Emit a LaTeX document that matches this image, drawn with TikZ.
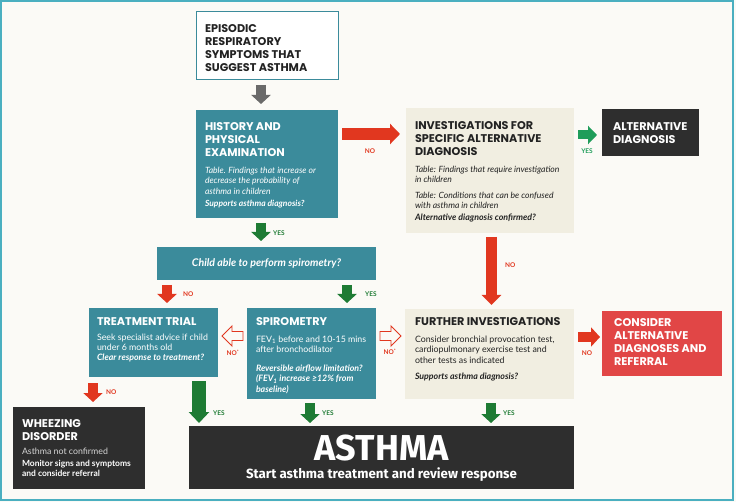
\documentclass[tikz,border=0pt]{standalone}
\usepackage{fontspec}
\setmainfont{Lato}
\newfontfamily\headfont{Poppins}
\newfontfamily\bigfont{Fira Sans}
\usetikzlibrary{arrows.meta,calc}
\definecolor{bgc}{HTML}{FBFAF6}
\definecolor{framec}{HTML}{4AAFC0}
\definecolor{tealc}{HTML}{3B8B9B}
\definecolor{beigec}{HTML}{F1EEE1}
\definecolor{darkc}{HTML}{2E2E2E}
\definecolor{redc}{HTML}{E1371F}
\definecolor{consc}{HTML}{E14646}
\definecolor{greenc}{HTML}{1E7B34}
\definecolor{brightg}{HTML}{1F9D5A}
\definecolor{grayc}{HTML}{6A6A6A}
\definecolor{inkc}{HTML}{222222}
\tikzset{
  boxn/.style={inner sep=0pt, outer sep=0pt, anchor=north west, draw=none},
  tx/.style={inner sep=0pt, outer sep=0pt, anchor=north west, align=left},
  hfont/.style={font=\headfont\bfseries\fontsize{11.2}{12.7}\selectfont},
  bfont/.style={font=\fontsize{8.8}{10.4}\selectfont},
  bifont/.style={font=\itshape\fontsize{8.6}{10.4}\selectfont},
  qfont/.style={font=\bfseries\itshape\fontsize{8.8}{10.4}\selectfont},
  lab/.style={inner sep=0pt, font=\bfseries\fontsize{6.5}{7}\selectfont},
  blk/.style={line width=10pt, -{Triangle[width=19pt,length=9pt]}},
  hollowL/.pic={\draw[redc, line width=0.9pt, fill=bgc, line join=miter]
    (0,0) -- (10,-10) -- (10,-4.5) -- (21,-4.5) -- (21,4.5) -- (10,4.5) -- (10,10) -- cycle;},
  hollowR/.pic={\draw[redc, line width=0.9pt, fill=bgc, line join=miter]
    (0,0) -- (-10,-10) -- (-10,-4.5) -- (-21,-4.5) -- (-21,4.5) -- (-10,4.5) -- (-10,10) -- cycle;}
}
\begin{document}
\begin{tikzpicture}[x=1pt,y=-1pt]
\useasboundingbox (0,0) rectangle (736,502);
\fill[bgc] (0,0) rectangle (736,502);
\draw[framec, line width=2pt] (1,1) rectangle (733,500);

% boxes
\node[boxn, fill=white, draw=tealc, line width=1pt, minimum width=142pt, minimum height=68pt] (sym) at (196,12) {};
\node[boxn, fill=tealc, minimum width=142pt, minimum height=108pt] (hist) at (196,110) {};
\node[boxn, fill=beigec, minimum width=168pt, minimum height=125pt] (inv) at (406,108) {};
\node[boxn, fill=darkc, minimum width=97pt, minimum height=47pt] (alt) at (602,109) {};
\node[boxn, fill=tealc, minimum width=219pt, minimum height=33pt] (child) at (157,247) {};
\node[boxn, fill=tealc, minimum width=129pt, minimum height=69pt] (trial) at (89,308) {};
\node[boxn, fill=tealc, minimum width=129pt, minimum height=91pt] (spiro) at (247,308) {};
\node[boxn, fill=beigec, minimum width=169pt, minimum height=90pt] (fur) at (405,309) {};
\node[boxn, fill=consc, minimum width=120pt, minimum height=65pt] (cons) at (602,311) {};
\node[boxn, fill=darkc, minimum width=132pt, minimum height=82pt] (wheez) at (13,407) {};
\node[boxn, fill=darkc, minimum width=385pt, minimum height=63pt] (asth) at (189,426) {};

% texts
\node[tx, hfont, text=inkc] (symT) at (205,25) {EPISODIC\\RESPIRATORY\\SYMPTOMS THAT\\SUGGEST ASTHMA};

\node[tx, hfont, text=white] (histH) at (205,123) {HISTORY AND\\PHYSICAL\\EXAMINATION};
\node[tx, bifont, text=white] (histB) at (205,167) {Table. Findings that increase or\\decrease the probability of\\asthma in children};
\node[tx, text=white, font=\bfseries\itshape\fontsize{8.5}{10.4}\selectfont] (histQ) at (205,200) {Supports asthma diagnosis?};

\node[tx, hfont, text=inkc] (invH) at (415,122) {INVESTIGATIONS FOR\\SPECIFIC ALTERNATIVE\\DIAGNOSIS};
\node[tx, bifont, text=inkc] (invB1) at (415,166) {Table: Findings that require investigation\\in children};
\node[tx, bifont, text=inkc] (invB2) at (415,192) {Table: Conditions that can be confused\\with asthma in children};
\node[tx, qfont, text=inkc] (invQ) at (415,214) {Alternative diagnosis confirmed?};

\node[tx, hfont, text=white] (altH) at (613,123) {ALTERNATIVE\\DIAGNOSIS};

\node[inner sep=0pt, text=white, font=\bfseries\itshape\fontsize{10.6}{12}\selectfont] (childT) at (child.center) {Child able to perform spirometry?};

\node[tx, hfont, text=white] (trialH) at (97,318) {TREATMENT TRIAL};
\node[tx, bfont, text=white] (trialB) at (97,334) {Seek specialist advice if child\\under 6 months old};
\node[tx, qfont, text=white] (trialQ) at (97,354) {Clear response to treatment?};

\node[tx, hfont, text=white] (spiroH) at (256,318) {SPIROMETRY};
\node[tx, bfont, text=white] (spiroB) at (256,336) {FEV\textsubscript{1} before and 10-15 mins\\after bronchodilator};
\node[tx, qfont, text=white] (spiroQ) at (256,365) {Reversible airflow limitation?\\(FEV\textsubscript{1} increase ≥12\% from\\baseline)};

\node[tx, hfont, text=inkc] (furH) at (415,318) {FURTHER INVESTIGATIONS};
\node[tx, bfont, text=inkc] (furB) at (415,336) {Consider bronchial provocation test,\\cardiopulmonary exercise test and\\other tests as indicated};
\node[tx, qfont, text=inkc] (furQ) at (415,373) {Supports asthma diagnosis?};

\node[tx, hfont, text=white] (consH) at (614,319) {CONSIDER\\ALTERNATIVE\\DIAGNOSES AND\\REFERRAL};

\node[tx, hfont, text=white] (wheezH) at (22,420) {WHEEZING\\DISORDER};
\node[tx, bfont, text=white!80!darkc] (wheezB) at (22,448) {Asthma not confirmed};
\node[tx, font=\bfseries\fontsize{8.5}{10.4}\selectfont, text=white] (wheezQ) at (22,460) {Monitor signs and symptoms\\and consider referral};

\node[inner sep=0pt, anchor=north, text=white, font=\bigfont\bfseries\fontsize{36}{36}\selectfont] (asthT) at (381.5,435) {ASTHMA};
\node[inner sep=0pt, anchor=north, text=white, font=\bigfont\bfseries\fontsize{13.3}{15}\selectfont] (asthS) at (381.5,468) {Start asthma treatment and review response};

% block arrows
\draw[blk, grayc] ($(sym.south -| 261,0)+(0,5)$) -- ($(hist.north -| 261,0)+(0,-6)$);
\draw[blk, redc, line width=12pt, -{Triangle[width=20pt,length=10pt]}] ($(hist.east |- 0,134)+(4,0)$) -- ($(inv.west |- 0,134)+(-6,0)$);
\draw[blk, brightg, line width=9pt, -{Triangle[width=18pt,length=9pt]}] ($(inv.east |- 0,135)+(4,0)$) -- ($(alt.west |- 0,135)+(-5,0)$);
\draw[blk, greenc] ($(hist.south -| 261,0)+(0,5)$) -- ($(child.north -| 261,0)+(0,-6)$);
\draw[blk, redc] ($(child.south -| 167,0)+(0,5)$) -- ($(trial.north -| 167,0)+(0,-5)$);
\draw[blk, greenc] ($(child.south -| 347,0)+(0,5)$) -- ($(spiro.north -| 347,0)+(0,-5)$);
\draw[blk, redc] ($(trial.south -| 93,0)+(0,6)$) -- ($(wheez.north -| 93,0)+(0,-5)$);
\draw[blk, greenc, line width=14pt, -{Triangle[width=20pt,length=11pt]}] ($(trial.south -| 199,0)+(0,4)$) -- ($(asth.north -| 199,0)+(0,-3)$);
\draw[blk, greenc] ($(spiro.south -| 310,0)+(0,4)$) -- ($(asth.north -| 310,0)+(0,-3)$);
\draw[blk, greenc] ($(fur.south -| 491,0)+(0,4)$) -- ($(asth.north -| 491,0)+(0,-3)$);
\draw[blk, redc, line width=11pt, -{Triangle[width=19pt,length=10pt]}] ($(inv.south -| 491.5,0)+(0,4)$) -- ($(fur.north -| 491.5,0)+(0,-4)$);
\draw[blk, redc] ($(fur.east |- 0,337)+(4,0)$) -- ($(cons.west |- 0,337)+(-2,0)$);

% hollow arrows
\pic at ($(spiro.west |- 0,336)+(-25,0)$) {hollowL};
\pic at ($(fur.west |- 0,336)+(-4,0)$) {hollowR};

% labels
\node[lab, text=redc] (l1) at (370,151) {NO};
\node[lab, text=brightg] (l2) at (587,151) {YES};
\node[lab, text=greenc, anchor=west] (l3) at (273,233) {YES};
\node[lab, text=redc, anchor=west] (l4) at (183,294) {NO};
\node[lab, text=greenc, anchor=west] (l5) at (365,294) {YES};
\node[lab, text=redc] (l6) at (233,353) {NO\textsuperscript{*}};
\node[lab, text=redc] (l7) at (390,352) {NO\textsuperscript{*}};
\node[lab, text=redc, anchor=west] (l8) at (505,265) {NO};
\node[lab, text=redc] (l9) at (587,353) {NO};
\node[lab, text=redc, anchor=west] (l10) at (106,392) {NO};
\node[lab, text=greenc, anchor=west] (l11) at (213,413) {YES};
\node[lab, text=greenc, anchor=west] (l12) at (322,413) {YES};
\node[lab, text=greenc, anchor=west] (l13) at (503,413) {YES};
\end{tikzpicture}
\end{document}
